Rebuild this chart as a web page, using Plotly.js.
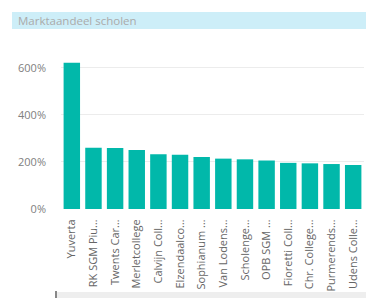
<!DOCTYPE html>
<html>
<head>
<meta charset="utf-8">
<script src="https://cdn.plot.ly/plotly-3.0.1.min.js"></script>
<style>html,body{margin:0;padding:0;background:#fff;}#chart{width:366px;height:298px;}</style>
</head>
<body>
<div id="chart"></div>
<script>
var schools = ["Yuverta", "RK SGM Piu…", "Twents Car…", "Merletcollege", "Calvijn Coll…", "Elzendaalco…", "Sophianum …", "Van Lodens…", "Scholenge…", "OPB SGM …", "Fioretti Coll…", "Chr. College…", "Purmerends…", "Udens Colle…"];
var share = [621, 260, 259, 251, 233, 230, 221, 214, 211, 206, 196, 194, 191, 187];
var yTicks = [0, 200, 400, 600];
var yTickLabels = ["0%", "200%", "400%", "600%"];
var titleText = "Marktaandeel scholen";

var font = "Open Sans, Noto Sans, sans-serif";
var W = 303, H = 153;
Plotly.newPlot("chart", [{
  type: "bar",
  x: schools,
  y: share,
  marker: {color: "#01B8AA"},
  hoverinfo: "x+y"
}], {
  width: 366, height: 298,
  margin: {l: 61, r: 2, t: 56, b: 89},
  bargap: 0.24,
  paper_bgcolor: "#fff",
  plot_bgcolor: "#fff",
  showlegend: false,
  xaxis: {
    type: "category",
    tickangle: -90,
    tickfont: {family: font, size: 11, color: "#666"},
    showgrid: false, zeroline: false, showline: false,
    ticks: "outside", ticklen: 5, tickcolor: "rgba(0,0,0,0)",
    automargin: false
  },
  yaxis: {
    range: [0, 650],
    tickvals: yTicks,
    ticktext: yTickLabels,
    tickfont: {family: font, size: 11, color: "#808080"},
    ticklabelstandoff: 14,
    showgrid: true, gridcolor: "#ececec", gridwidth: 1,
    zeroline: false, showline: false, ticks: "", ticklen: 0,
    automargin: false
  },
  shapes: [
    {type: "rect", xref: "paper", yref: "paper", x0: (12 - 61) / W, x1: 1.01, y0: 1.0 + 27 / H, y1: 1.0 + 44 / H,
     fillcolor: "#cdeef8", line: {width: 0}, layer: "below"},
    {type: "rect", xref: "paper", yref: "paper", x0: (55 - 61) / W, x1: 1.01, y0: -83 / H, y1: -90 / H,
     fillcolor: "#eeeeee", line: {width: 0}},
    {type: "rect", xref: "paper", yref: "paper", x0: (55 - 61) / W, x1: (57 - 61) / W, y0: -82 / H, y1: -90 / H,
     fillcolor: "#888", line: {width: 0}}
  ],
  annotations: [
    {text: titleText, xref: "paper", yref: "paper", x: (16 - 61) / W, y: 1.0 + 35.5 / H,
     xanchor: "left", yanchor: "middle", showarrow: false,
     font: {family: font, size: 11.5, color: "#aaaaaa"}}
  ]
}, {displayModeBar: false, staticPlot: true});
</script>
</body>
</html>
